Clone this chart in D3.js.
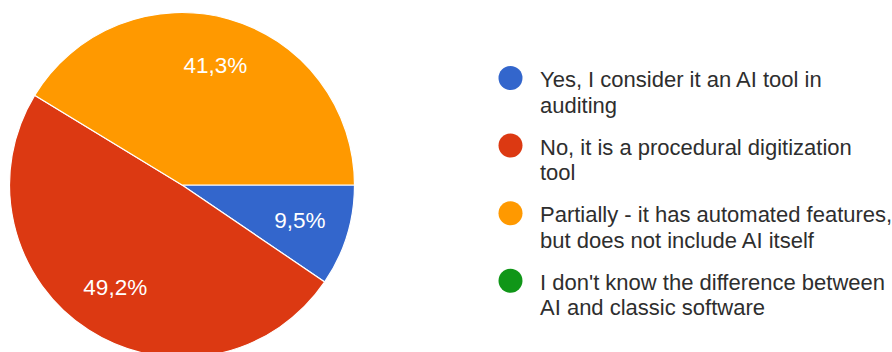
<!DOCTYPE html>
<html>
<head>
<meta charset="utf-8">
<script src="https://cdn.jsdelivr.net/npm/d3@7"></script>
<style>
  html, body { margin: 0; padding: 0; background: #ffffff; }
  svg { display: block; }
</style>
</head>
<body>
<svg id="chart" width="892" height="352"></svg>
<script>
// Answer categories (legend wording split into its two display lines)
const categories = [
  ["Yes, I consider it an AI tool in", "auditing"],
  ["No, it is a procedural digitization", "tool"],
  ["Partially - it has automated features,", "but does not include AI itself"],
  ["I don't know the difference between", "AI and classic software"]
];
// Share of responses, in percent
const shares = [9.5, 49.2, 41.3, 0];
const colors = ["#3366cc", "#dc3912", "#ff9900", "#109618"];

const width = 892, height = 352;
const cx = 182, cy = 185, radius = 172.5;
const font = "'Liberation Sans', Arial, sans-serif";

const svg = d3.select("#chart");
svg.append("rect").attr("width", width).attr("height", height).attr("fill", "#ffffff");

const fmt = d3.formatLocale({ decimal: ",", thousands: ".", grouping: [3], currency: ["", ""] }).format(".1f");

// Slices run clockwise starting at three o'clock
const pie = d3.pie().sort(null).value(d => d)
  .startAngle(Math.PI / 2).endAngle(Math.PI / 2 + 2 * Math.PI);
const arcs = pie(shares);

const arc = d3.arc().innerRadius(0).outerRadius(radius);
const labelArc = d3.arc().innerRadius(radius * 0.715).outerRadius(radius * 0.715);

const g = svg.append("g").attr("transform", `translate(${cx},${cy})`);

g.selectAll("path.slice")
  .data(arcs.filter(d => d.value > 0))
  .join("path")
  .attr("class", "slice")
  .attr("d", arc)
  .attr("fill", d => colors[d.index])
  .attr("stroke", "#ffffff")
  .attr("stroke-width", 1.2);

g.selectAll("text.pct")
  .data(arcs.filter(d => d.value > 0))
  .join("text")
  .attr("class", "pct")
  .attr("transform", d => `translate(${labelArc.centroid(d)})`)
  .attr("text-anchor", "middle")
  .attr("dy", "0.3em")
  .attr("fill", "#ffffff")
  .style("font-family", font)
  .style("font-size", "22.5px")
  .text(d => fmt(d.value) + "%");

// Legend
const legendX = 510.5, textX = 540, firstBaseline = 87, itemGap = 67.6, lineGap = 25.5;
const legend = svg.append("g");
const items = legend.selectAll("g.item")
  .data(categories)
  .join("g")
  .attr("class", "item")
  .attr("transform", (d, i) => `translate(0,${firstBaseline + i * itemGap})`);

items.append("circle")
  .attr("cx", legendX)
  .attr("cy", -9)
  .attr("r", 12)
  .attr("fill", (d, i) => colors[i]);

items.append("text")
  .attr("x", textX)
  .attr("fill", "#2e2e2e")
  .style("font-family", font)
  .style("font-size", "22px")
  .selectAll("tspan")
  .data(d => d)
  .join("tspan")
  .attr("x", textX)
  .attr("y", (d, j) => j * lineGap)
  .text(d => d);
</script>
</body>
</html>
